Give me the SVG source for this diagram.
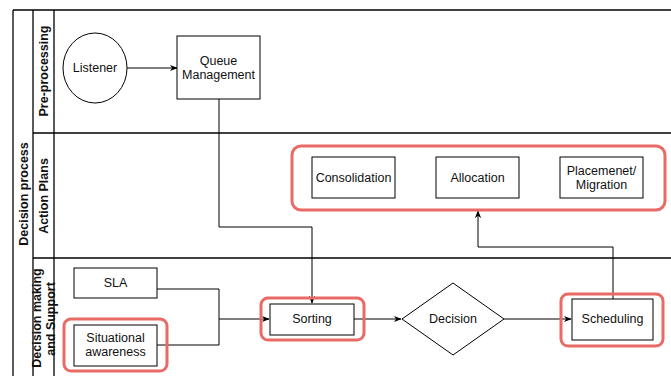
<svg xmlns="http://www.w3.org/2000/svg" width="671" height="376" viewBox="0 0 671 376">
<style>
.lane{fill:none;stroke:#000;stroke-width:1.3}
.box{fill:#fff;stroke:#000;stroke-width:1}
.hl{fill:none;stroke:#ea6b66;stroke-width:3}
.t{font-family:"Liberation Sans",Arial,sans-serif;font-size:12.5px;fill:#111;text-anchor:middle}
.lt{font-family:"Liberation Sans",Arial,sans-serif;font-size:12.5px;font-weight:bold;fill:#111;text-anchor:middle}
.c{fill:none;stroke:#000;stroke-width:1}
</style>
<defs>
<marker id="ah" viewBox="0 0 10 10" refX="9" refY="5" markerWidth="8" markerHeight="8" markerUnits="userSpaceOnUse" orient="auto">
<path d="M0,1 L10,5 L0,9 L3,5 Z" fill="#000"/>
</marker>
</defs>
<rect width="671" height="376" fill="#fff"/>
<g id="pool">
<line class="lane" x1="13" y1="10" x2="671" y2="10"/>
<line class="lane" x1="13" y1="10" x2="13" y2="376"/>
<line class="lane" x1="33" y1="10" x2="33" y2="376"/>
<line class="lane" x1="54" y1="10" x2="54" y2="376"/>
<line class="lane" x1="33" y1="133" x2="671" y2="133" stroke="#444"/>
<line class="lane" x1="33" y1="258" x2="671" y2="258" stroke="#444"/>
<text class="lt" transform="translate(28,194) rotate(-90)">Decision process</text>
<text class="lt" transform="translate(48,71) rotate(-90)">Pre-processing</text>
<text class="lt" transform="translate(48,196) rotate(-90)">Action Plans</text>
<text class="lt" transform="translate(41,318) rotate(-90)">Decision making</text>
<text class="lt" transform="translate(55,319) rotate(-90)">and Support</text>
</g>
<g id="connectors">
<line class="c" x1="127" y1="68" x2="177" y2="68" marker-end="url(#ah)"/>
<polyline class="c" points="219,99 219,227 312,227 312,303" marker-end="url(#ah)"/>
<polyline class="c" points="157,289 219,289 219,345 157,345"/>
<line class="c" x1="219" y1="319" x2="269" y2="319" marker-end="url(#ah)"/>
<line class="c" x1="354" y1="319" x2="401" y2="319" marker-end="url(#ah)"/>
<line class="c" x1="504" y1="319" x2="571" y2="319" marker-end="url(#ah)"/>
<polyline class="c" points="613,299 613,247 478,247 478,211" marker-end="url(#ah)"/>
</g>
<g id="actionplans-group"><rect class="hl" x="292" y="146" width="373" height="64" rx="9"/></g>
<g id="listener"><ellipse class="box" cx="95" cy="68" rx="32" ry="35"/><text class="t" x="95" y="72">Listener</text></g>
<g id="queue"><rect class="box" x="177" y="36" width="83" height="63"/><text class="t" x="218.5" y="65">Queue</text><text class="t" x="218.5" y="79">Management</text></g>
<g id="consolidation"><rect class="box" x="312" y="157" width="83" height="41"/><text class="t" x="353.5" y="182">Consolidation</text></g>
<g id="allocation"><rect class="box" x="436" y="157" width="83" height="41"/><text class="t" x="477.5" y="182">Allocation</text></g>
<g id="placement"><rect class="box" x="560" y="157" width="83" height="41"/><text class="t" x="601.5" y="175">Placemenet/</text><text class="t" x="601.5" y="189">Migration</text></g>
<g id="sla"><rect class="box" x="74" y="268" width="83" height="30"/><text class="t" x="115.5" y="287">SLA</text></g>
<g id="situational"><rect class="hl" x="64" y="319" width="103" height="52" rx="7"/><rect class="box" x="74" y="325" width="83" height="41"/><text class="t" x="115.5" y="342">Situational</text><text class="t" x="115.5" y="356">awareness</text></g>
<g id="sorting"><rect class="hl" x="261" y="298" width="103" height="42" rx="7"/><rect class="box" x="270" y="304" width="84" height="31"/><text class="t" x="312" y="323">Sorting</text></g>
<g id="decision"><polygon class="box" points="453,283 504,319 453,355 402,319"/><text class="t" x="453" y="323">Decision</text></g>
<g id="scheduling"><rect class="hl" x="561" y="294" width="102" height="52" rx="7"/><rect class="box" x="572" y="299" width="81" height="41"/><text class="t" x="612.5" y="323">Scheduling</text></g>
</svg>
